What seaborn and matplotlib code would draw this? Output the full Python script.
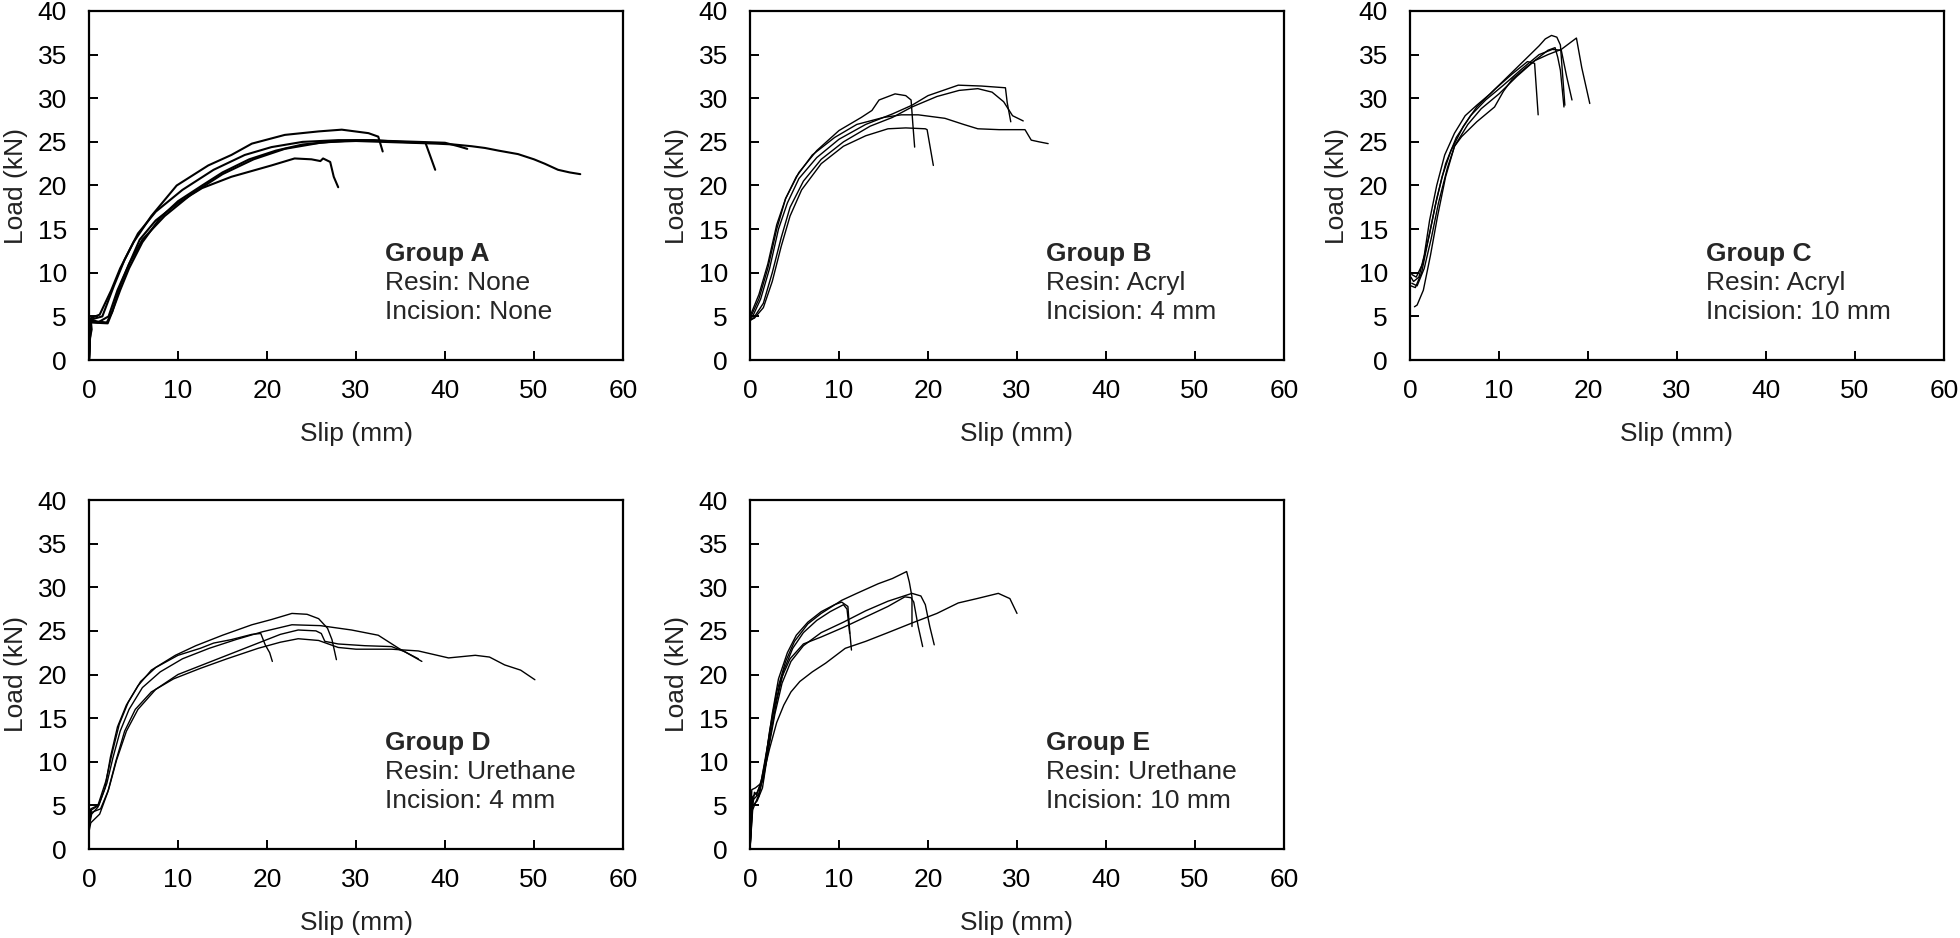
import matplotlib
matplotlib.use("Agg")
import matplotlib.pyplot as plt
import seaborn as sns

# ---------------- Data ----------------
# Group A
A1_slip = [0, 0.1, 0.3, 0.2, 1.0, 2.0, 2.6, 3.5, 4.5, 6, 8, 10, 12.7, 15, 18, 21, 24, 27, 30, 33, 36, 39, 41, 43, 44.5, 46, 48.2, 50, 51.2, 52.7, 54, 55.2]
A1_load = [0, 2.5, 3.5, 4.6, 4.4, 4.3, 5.5, 8.0, 10.5, 13.5, 16.3, 18.2, 20.0, 21.5, 23.0, 24.0, 24.7, 25.0, 25.1, 25.0, 24.9, 24.8, 24.7, 24.5, 24.3, 24.0, 23.6, 23.0, 22.5, 21.8, 21.5, 21.3]
A2_slip = [0, 0.2, 1.2, 2.5, 3.5, 5, 7, 9.85, 13.4, 16, 18.3, 22, 25.8, 28.4, 31.4, 32.5, 33.0]
A2_load = [0, 4.8, 5.2, 8.0, 10.5, 13.5, 16.5, 20.0, 22.3, 23.5, 24.8, 25.8, 26.2, 26.4, 26.0, 25.6, 23.9]
A3_slip = [0, 0.1, 1.5, 2.8, 4, 5.5, 7.5, 10.5, 14, 17.5, 20.5, 24, 28, 32, 35, 37.8, 38.3, 38.9]
A3_load = [0, 4.6, 5.0, 8.5, 11.5, 14.5, 17.0, 19.5, 21.8, 23.5, 24.4, 25.0, 25.2, 25.2, 25.0, 24.9, 23.5, 21.8]
A4_slip = [0, 0.2, 1.0, 2.2, 3.2, 4.5, 6, 8.5, 11.5, 15, 18.5, 22, 26, 30, 34, 37, 40, 41.5, 42.5]
A4_load = [0, 4.4, 4.3, 5.0, 8.0, 11.0, 13.8, 16.5, 19.0, 21.3, 23.0, 24.2, 24.9, 25.2, 25.1, 25.0, 24.9, 24.5, 24.2]
A5_slip = [0, 0.2, 2.1, 2.6, 3.5, 4.5, 5.7, 7.5, 10, 12.7, 16, 20.5, 23.1, 25, 26.0, 26.3, 27.1, 27.5, 28.0]
A5_load = [0, 4.3, 4.2, 5.5, 8.5, 11.0, 13.8, 16.0, 18.0, 19.7, 21.0, 22.3, 23.1, 23.0, 22.8, 23.1, 22.7, 21.0, 19.8]

# Group B
B1_slip = [0, 0.2, 1, 2, 3, 4, 5.5, 7.5, 10, 12.5, 13.7, 14.5, 16.3, 17.5, 18.1, 18.3, 18.5]
B1_load = [4.8, 5.2, 7.0, 10.5, 15.0, 18.5, 21.5, 24.0, 26.3, 27.8, 28.6, 29.8, 30.5, 30.3, 29.8, 27.0, 24.4]
B2_slip = [0, 0.3, 1.2, 2.2, 3.2, 4.2, 5.5, 7.5, 10, 13, 16, 18.2, 20, 23.4, 26, 28.7, 28.9, 29.3]
B2_load = [4.6, 5.0, 7.0, 10.5, 15.0, 18.0, 20.8, 23.2, 25.3, 27.0, 28.2, 29.2, 30.3, 31.5, 31.4, 31.2, 29.5, 27.3]
B3_slip = [0, 0.4, 1.5, 2.5, 3.5, 4.5, 6, 8, 10.5, 13.5, 16, 18.2, 21, 23.5, 25.6, 27.2, 28.5, 29.5, 30.7]
B3_load = [4.5, 4.8, 6.5, 10.0, 14.0, 17.5, 20.5, 23.0, 25.0, 26.8, 27.8, 29.0, 30.2, 30.9, 31.1, 30.7, 29.6, 28.0, 27.4]
B4_slip = [0, 0.2, 1, 2, 3, 4, 5.2, 7, 9.5, 12, 15, 17, 18.9, 21.9, 24, 25.6, 28, 30.9, 31.6, 32.5, 33.5]
B4_load = [5.0, 5.5, 7.5, 11.0, 15.5, 18.5, 21.0, 23.5, 25.5, 27.0, 27.8, 28.1, 28.1, 27.7, 27.0, 26.5, 26.4, 26.4, 25.2, 25.0, 24.8]
B5_slip = [0, 0.5, 1.5, 2.5, 3.5, 4.5, 5.8, 8, 10.5, 13, 15.5, 17.5, 19.7, 19.9, 20.6]
B5_load = [4.6, 4.8, 6.0, 9.0, 13.0, 16.5, 19.5, 22.5, 24.5, 25.7, 26.5, 26.6, 26.5, 26.4, 22.3]

# Group C
C1_slip = [0.1, 0.4, 1.0, 1.6, 2.2, 3.0, 3.9, 5.0, 6.2, 7.5, 9, 11, 13, 14.5, 15.2, 15.9, 16.5, 16.9, 17.4]
C1_load = [9.5, 9.0, 9.5, 12.0, 16.0, 20.0, 23.5, 26.0, 28.0, 29.2, 30.5, 32.5, 34.5, 36.0, 36.8, 37.2, 37.0, 36.1, 29.2]
C2_slip = [0.5, 0.8, 1.5, 2.3, 3.1, 4.0, 5.0, 6.5, 8, 10, 12, 14, 15.5, 17, 18.7, 19.3, 20.2]
C2_load = [6.1, 6.3, 8.0, 12.0, 16.5, 21.0, 24.5, 27.0, 28.8, 30.5, 32.5, 34.3, 35.0, 35.6, 36.9, 33.5, 29.4]
C3_slip = [0.1, 0.6, 1.3, 2.0, 2.8, 3.6, 4.6, 6, 7.5, 9.5, 11.5, 13.2, 14.0, 14.4]
C3_load = [8.5, 8.3, 10.0, 13.5, 17.5, 21.0, 24.0, 26.8, 29.0, 31.0, 32.8, 34.2, 34.0, 28.1]
C4_slip = [0.2, 0.7, 1.4, 2.2, 3.0, 4.0, 5.2, 6.8, 8.5, 10.5, 12.5, 14.5, 16, 17.0, 17.6, 18.2]
C4_load = [9.8, 9.5, 11.0, 14.5, 18.5, 22.5, 25.5, 28.0, 29.8, 31.5, 33.3, 35.0, 35.6, 35.5, 32.5, 29.8]
C5_slip = [0.2, 0.8, 1.6, 2.4, 3.2, 4.2, 5.0, 5.8, 7.5, 9.5, 10.5, 11.5, 13, 14.5, 15.5, 16.3, 16.6, 16.9, 17.3]
C5_load = [8.8, 8.5, 10.5, 14.0, 18.0, 22.0, 24.5, 25.6, 27.3, 29.0, 30.8, 32.2, 33.5, 34.7, 35.5, 35.8, 34.7, 33.2, 29.0]

# Group D
D1_slip = [0, 0.3, 1.0, 1.8, 2.4, 3.2, 4.2, 5.5, 7, 9.7, 12, 15, 18.3, 20.5, 22.8, 24.5, 25.8, 26.8, 27.3, 27.8]
D1_load = [2.5, 4.0, 4.8, 7.0, 10.5, 14.0, 16.5, 18.7, 20.5, 22.2, 23.3, 24.5, 25.7, 26.3, 27.0, 26.9, 26.4, 25.3, 24.0, 21.7]
D2_slip = [0, 0.3, 1.1, 2.0, 2.7, 3.5, 4.5, 6, 8, 10.5, 13.5, 16.5, 19.5, 22.8, 26, 29.5, 32.5, 34.8, 37.4]
D2_load = [3.5, 4.5, 5.0, 7.5, 10.5, 13.5, 16.0, 18.5, 20.3, 21.8, 23.0, 24.0, 24.9, 25.7, 25.6, 25.1, 24.5, 23.0, 21.5]
D3_slip = [0, 0.2, 1.2, 2.1, 3.0, 4.0, 5.2, 7, 9.5, 12.5, 15.5, 19, 21.5, 23.5, 25.8, 28, 30, 34, 37, 40.4, 43.4, 45, 46.7, 48.5, 50.1]
D3_load = [2.0, 3.0, 4.0, 6.5, 10.0, 13.5, 16.0, 18.0, 19.5, 20.7, 21.8, 23.0, 23.7, 24.1, 23.9, 23.1, 22.9, 22.9, 22.7, 21.9, 22.2, 22.0, 21.1, 20.5, 19.4]
D4_slip = [0, 0.3, 1.3, 2.2, 3.1, 4.2, 5.5, 7.5, 10, 13, 16, 19, 21.5, 23.5, 25.5, 26.1, 26.5, 28, 31, 34, 35.5, 37.0]
D4_load = [3.0, 4.2, 4.6, 6.8, 10.2, 13.5, 16.0, 18.3, 20.0, 21.2, 22.4, 23.6, 24.6, 25.1, 25.0, 24.7, 23.8, 23.5, 23.3, 23.2, 22.6, 21.8]
D5_slip = [0, 0.2, 1.0, 1.9, 2.6, 3.4, 4.4, 5.8, 7.5, 10, 12.5, 14, 16, 18.3, 19.3, 19.8, 20.3, 20.6]
D5_load = [3.0, 4.6, 5.0, 7.8, 11.0, 14.3, 16.8, 19.2, 20.8, 22.2, 23.0, 23.6, 24.0, 24.6, 24.7, 23.4, 22.5, 21.5]

# Group E
E1_slip = [0, 0.2, 0.5, 1.0, 1.5, 2.2, 3.0, 4.0, 5.0, 6.5, 8, 10.3, 12, 14.4, 16, 17.6, 17.9, 18.2, 18.2]
E1_load = [0, 4.0, 6.5, 6.0, 8.5, 13.5, 18.0, 21.5, 23.8, 25.8, 27.0, 28.5, 29.3, 30.4, 31.0, 31.8, 30.6, 28.9, 25.5]
E2_slip = [0, 0.3, 0.8, 1.4, 2.0, 2.8, 3.6, 4.6, 6, 8, 10.5, 13, 15.5, 18.2, 19.2, 19.7, 20.2, 20.7]
E2_load = [0, 5.0, 5.5, 7.0, 11.0, 15.5, 19.0, 21.5, 23.3, 24.8, 26.0, 27.3, 28.4, 29.3, 29.0, 28.0, 25.5, 23.4]
E3_slip = [0, 0.2, 0.7, 1.3, 2.0, 2.7, 3.5, 4.5, 6, 8, 10.5, 13, 15.5, 17.4, 18.1, 18.4, 18.9, 19.4]
E3_load = [0, 5.5, 6.0, 8.0, 12.0, 16.0, 19.5, 21.8, 23.5, 24.3, 25.4, 26.6, 27.8, 28.9, 28.8, 28.3, 25.5, 23.2]
E4_slip = [0, 0.2, 0.6, 1.2, 1.8, 2.5, 3.2, 4.2, 5.2, 6.5, 8, 9.5, 10.3, 11.0, 11.2, 11.4]
E4_load = [0, 6.8, 7.0, 7.5, 10.5, 15.5, 19.5, 22.5, 24.5, 26.0, 27.2, 28.0, 28.3, 27.8, 25.0, 22.8]
E5_slip = [0, 0.3, 0.9, 1.5, 2.2, 3.0, 3.8, 4.6, 5.6, 7, 8.5, 10.7, 13, 15.5, 18.2, 21, 23.4, 25.5, 27.9, 29.2, 30.0]
E5_load = [0, 4.5, 6.0, 8.5, 11.5, 14.5, 16.5, 18.0, 19.2, 20.3, 21.3, 23.0, 23.8, 24.8, 25.9, 27.0, 28.2, 28.7, 29.3, 28.7, 27.0]
E6_slip = [0, 0.3, 0.8, 1.5, 2.2, 3.0, 3.8, 4.8, 6, 7.5, 9, 10.5, 10.9, 11.2]
E6_load = [0, 6.0, 6.5, 8.0, 12.5, 17.0, 20.5, 23.0, 24.8, 26.2, 27.2, 28.0, 27.5, 24.7]

group_titles = ["Group A", "Group B", "Group C", "Group D", "Group E"]
resins = ["Resin: None", "Resin: Acryl", "Resin: Acryl", "Resin: Urethane", "Resin: Urethane"]
incisions = ["Incision: None", "Incision: 4 mm", "Incision: 10 mm", "Incision: 4 mm", "Incision: 10 mm"]

x_ticks = [0, 10, 20, 30, 40, 50, 60]
y_ticks = [0, 5, 10, 15, 20, 25, 30, 35, 40]
x_label = "Slip (mm)"
y_label = "Load (kN)"

groups = [
    [(A1_slip, A1_load), (A2_slip, A2_load), (A3_slip, A3_load), (A4_slip, A4_load), (A5_slip, A5_load)],
    [(B1_slip, B1_load), (B2_slip, B2_load), (B3_slip, B3_load), (B4_slip, B4_load), (B5_slip, B5_load)],
    [(C1_slip, C1_load), (C2_slip, C2_load), (C3_slip, C3_load), (C4_slip, C4_load), (C5_slip, C5_load)],
    [(D1_slip, D1_load), (D2_slip, D2_load), (D3_slip, D3_load), (D4_slip, D4_load), (D5_slip, D5_load)],
    [(E1_slip, E1_load), (E2_slip, E2_load), (E3_slip, E3_load), (E4_slip, E4_load), (E5_slip, E5_load), (E6_slip, E6_load)],
]

# ---------------- Style ----------------
sns.set_style("ticks")
plt.rcParams['font.family'] = ['Liberation Sans', 'DejaVu Sans']

W, H = 1960, 938
fig = plt.figure(figsize=(W / 100, H / 100), dpi=100)

col_left = [89, 750, 1410]
ax_w = 534
ax_h = 349
row_bottom = [360, 849]
positions = [(col_left[0], row_bottom[0]), (col_left[1], row_bottom[0]), (col_left[2], row_bottom[0]),
             (col_left[0], row_bottom[1]), (col_left[1], row_bottom[1])]

FS = 19
line_widths = [1.5, 1.0, 1.0, 1.0, 1.0]

for i, (lx, by) in enumerate(positions):
    ax = fig.add_axes([lx / W, (H - by) / H, ax_w / W, ax_h / H])
    for slip, load in groups[i]:
        sns.lineplot(x=slip, y=load, sort=False, estimator=None, color="black",
                     linewidth=line_widths[i], ax=ax)
    ax.set_xlim(0, 60)
    ax.set_ylim(0, 40)
    ax.set_xticks(x_ticks)
    ax.set_yticks(y_ticks)
    ax.tick_params(axis='both', direction='in', length=6.5, width=1.4, labelsize=FS, colors='black')
    ax.tick_params(axis='x', pad=14)
    ax.tick_params(axis='y', pad=16)
    for s in ax.spines.values():
        s.set_visible(True)
        s.set_linewidth(1.6)
        s.set_color('black')
    ax.set_xlabel(x_label, fontsize=FS, labelpad=13.5, color='#222222')
    ax.set_ylabel(y_label, fontsize=FS, labelpad=7, color='#222222')
    ax.text(33.3, 11.3, group_titles[i], fontsize=FS, fontweight='bold', va='baseline', ha='left')
    ax.text(33.3, 8.0, resins[i], fontsize=FS, va='baseline', ha='left')
    ax.text(33.3, 4.75, incisions[i], fontsize=FS, va='baseline', ha='left')

fig.savefig("out.png", dpi=100)
